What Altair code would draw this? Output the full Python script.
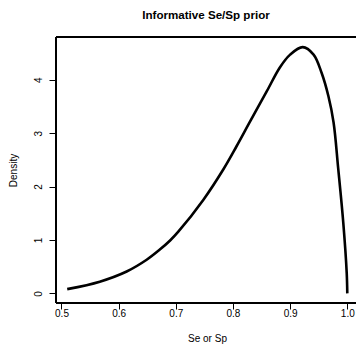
import altair as alt
import pandas as pd

# values
se_sp = [0.51, 0.567, 0.614, 0.649, 0.672, 0.69, 0.704, 0.748, 0.783, 0.806, 0.83,
         0.859, 0.882, 0.900, 0.922, 0.941, 0.955, 0.967, 0.976, 0.984, 0.993, 0.999, 1.0]
density = [0.08, 0.22, 0.41, 0.63, 0.82, 0.99, 1.15, 1.75, 2.32, 2.75, 3.22,
           3.78, 4.23, 4.47, 4.61, 4.47, 4.13, 3.69, 3.20, 2.35, 1.32, 0.38, 0.0]
x_ticks = [0.5, 0.6, 0.7, 0.8, 0.9, 1.0]
y_ticks = [0, 1, 2, 3, 4]

df = pd.DataFrame({"x": se_sp, "y": density})

W, H = 300, 266
FONT = "Liberation Sans"

xscale = alt.Scale(domain=[0.49038, 1.01523], nice=False, zero=False)
yscale = alt.Scale(domain=[-0.18, 4.80], nice=False, zero=False)

line = alt.Chart(df).mark_line(
    color="black", strokeWidth=2.6, interpolate="catmull-rom", clip=True
).encode(
    x=alt.X("x:Q", scale=xscale,
            axis=alt.Axis(values=x_ticks, format=".1f", domain=False, grid=False,
                          tickSize=6, tickColor="black", labelColor="black",
                          labelFont=FONT, labelFontSize=10, labelBaseline="middle",
                          labelPadding=4, title="Se or Sp", titleFont=FONT,
                          titleFontSize=10, titleFontWeight="normal", titleColor="black",
                          titleX=151, titleY=35, titleBaseline="middle", titleAlign="center")),
    y=alt.Y("y:Q", scale=yscale,
            axis=alt.Axis(values=y_ticks, format="d", domain=False, grid=False,
                          tickSize=7, tickColor="black", labelColor="black",
                          labelFont=FONT, labelFontSize=10, labelAngle=-90,
                          labelAlign="center", labelBaseline="middle", labelPadding=11,
                          title="Density", titleFont=FONT, titleFontSize=10,
                          titleFontWeight="normal", titleColor="black", titleAngle=-90,
                          titleX=-42.7, titleY=133, titleAlign="center",
                          titleBaseline="middle")),
)

top = alt.Chart(df).mark_rule(color="black", strokeWidth=1).encode(
    x=alt.value(0), x2=alt.value(W), y=alt.value(0))
bottom = alt.Chart(df).mark_rule(color="black", strokeWidth=1).encode(
    x=alt.value(0), x2=alt.value(W), y=alt.value(H))
left = alt.Chart(df).mark_rule(color="black", strokeWidth=1).encode(
    x=alt.value(0), y=alt.value(0), y2=alt.value(H))

chart = alt.layer(line, top, bottom, left).properties(
    width=W, height=H,
    title=alt.TitleParams("Informative Se/Sp prior", font=FONT, fontSize=11.6,
                          fontWeight="bold", color="black", anchor="middle",
                          baseline="alphabetic", offset=20, dy=14),
    autosize=alt.AutoSizeParams(type="none"),
    padding={"left": 56, "top": 37, "right": 0, "bottom": 47},
).configure_view(stroke=None).configure(background="white")

chart.save("out.html", embed_options={"renderer": "svg", "actions": False})
